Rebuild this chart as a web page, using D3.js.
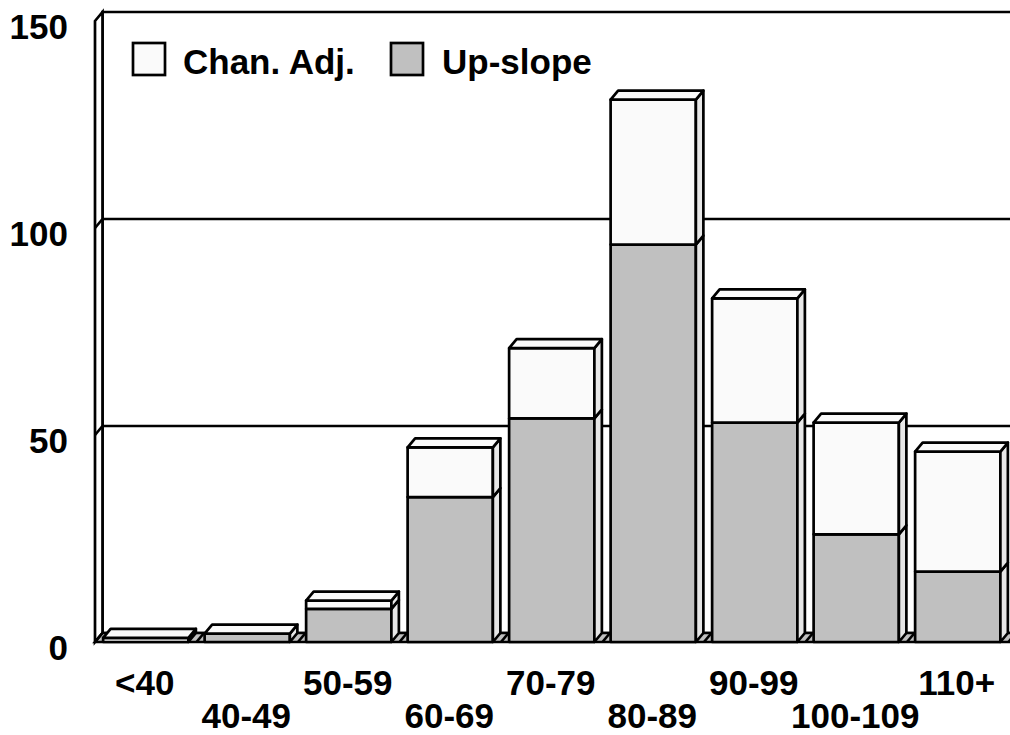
<!DOCTYPE html>
<html>
<head>
<meta charset="utf-8">
<script src="https://cdn.jsdelivr.net/npm/d3@7"></script>
<style>
  html, body { margin: 0; padding: 0; background: #fff; }
  svg { display: block; }
  text { font-family: "Liberation Sans", Arial, sans-serif; font-weight: bold; fill: #000; }
</style>
</head>
<body>
<svg id="chart" width="1010" height="735"></svg>
<script>
// Counts per speed class, stacked: Up-slope at the bottom, Chan. Adj. on top
const categories = ["<40", "40-49", "50-59", "60-69", "70-79", "80-89", "90-99", "100-109", "110+"];
const upSlope = [0, 2, 8, 35, 54, 96, 53, 26, 17];
const chanAdj = [1, 0, 2, 12, 17, 35, 30, 27, 29];
const yTicks = [0, 50, 100, 150];
const seriesNames = ["Chan. Adj.", "Up-slope"];

const W = 1010, H = 735;
const svg = d3.select("#chart");

// depth offset of the 3D box look (right and up)
const DX = 7.5, DY = 9;
const STROKE = 2.7;

const x = d3.scaleBand()
  .domain(categories)
  .range([95, 95 + 9 * 101.5])
  .paddingInner(0.16)
  .paddingOuter(0.08);

const y = d3.scaleLinear().domain([0, 150]).range([642, 642 - 150 * 4.14]);

const colors = {
  up:   { front: "#c0c0c0", side: "#e6e6e6", top: "#e0e0e0" },
  chan: { front: "#fafafa", side: "#e8e8e8", top: "#fafafa" }
};

const poly = pts => "M" + pts.map(p => p.join(",")).join("L") + "Z";

const x0 = 95;
const xEnd = W + 20;

// back wall
svg.append("path")
  .attr("d", poly([[x0 + DX, y(150) - DY], [xEnd, y(150) - DY], [xEnd, y(0) - DY], [x0 + DX, y(0) - DY]]))
  .attr("fill", "#fff")
  .attr("stroke", "#000").attr("stroke-width", STROKE);

// gridlines on the back wall
yTicks.filter(v => v > 0 && v < 150).forEach(v => {
  svg.append("line")
    .attr("x1", x0 + DX).attr("x2", xEnd)
    .attr("y1", y(v) - DY).attr("y2", y(v) - DY)
    .attr("stroke", "#000").attr("stroke-width", STROKE);
});

// left side wall
svg.append("path")
  .attr("d", poly([[x0, y(150)], [x0 + DX, y(150) - DY], [x0 + DX, y(0) - DY], [x0, y(0)]]))
  .attr("fill", "#fff")
  .attr("stroke", "#000").attr("stroke-width", STROKE);

yTicks.filter(v => v > 0 && v < 150).forEach(v => {
  svg.append("line")
    .attr("x1", x0).attr("y1", y(v))
    .attr("x2", x0 + DX).attr("y2", y(v) - DY)
    .attr("stroke", "#000").attr("stroke-width", STROKE);
});

// floor
svg.append("path")
  .attr("d", poly([[x0, y(0)], [x0 + DX, y(0) - DY], [xEnd, y(0) - DY], [xEnd, y(0)]]))
  .attr("fill", "#c0c0c0")
  .attr("stroke", "#000").attr("stroke-width", STROKE);

// category separators running into the depth of the floor
const step = x.step();
d3.range(categories.length + 1).forEach(i => {
  const bx = x0 + i * step;
  svg.append("line")
    .attr("x1", bx).attr("y1", y(0))
    .attr("x2", bx + DX).attr("y2", y(0) - DY)
    .attr("stroke", "#000").attr("stroke-width", STROKE);
});

// stacked 3D bars
const stackData = categories.map((c, i) => ({ cat: c, up: upSlope[i], chan: chanAdj[i] }));
const stack = d3.stack().keys(["up", "chan"])(stackData);

const bars = svg.append("g").attr("class", "bars");
categories.forEach((c, i) => {
  const g = bars.append("g");
  const bx = x(c), bw = x.bandwidth();
  stack.forEach(layer => {
    const key = layer.key;
    const [v0, v1] = layer[i];
    const yb = y(v0), yt = y(v1);
    const col = colors[key];
    if (v1 > v0) {
      // front face
      g.append("path")
        .attr("d", poly([[bx, yb], [bx + bw, yb], [bx + bw, yt], [bx, yt]]))
        .attr("fill", col.front)
        .attr("stroke", "#000").attr("stroke-width", STROKE).attr("stroke-linejoin", "round");
      // right side face
      g.append("path")
        .attr("d", poly([[bx + bw, yb], [bx + bw + DX, yb - DY], [bx + bw + DX, yt - DY], [bx + bw, yt]]))
        .attr("fill", col.side)
        .attr("stroke", "#000").attr("stroke-width", STROKE).attr("stroke-linejoin", "round");
    }
  });
  // top face of the stack
  const total = stack[stack.length - 1][i][1];
  const yt = y(total);
  g.append("path")
    .attr("d", poly([[bx, yt], [bx + DX, yt - DY], [bx + bw + DX, yt - DY], [bx + bw, yt]]))
    .attr("fill", colors.chan.top)
    .attr("stroke", "#000").attr("stroke-width", STROKE).attr("stroke-linejoin", "round");
});

// value axis labels
const yAxis = d3.axisLeft(y).tickValues(yTicks).tickSize(0).tickPadding(0).tickFormat(d3.format("d"));
const ya = svg.append("g").attr("transform", "translate(68,5)").call(yAxis);
ya.select(".domain").remove();
ya.selectAll("text")
  .attr("font-size", 35)
  .attr("font-family", "Liberation Sans, Arial, sans-serif")
  .attr("font-weight", "bold")
  .attr("fill", "#000")
  .attr("dy", "0.36em");

// category labels, staggered on two rows
svg.append("g").selectAll("text")
  .data(categories)
  .join("text")
  .attr("x", d => x(d) + x.bandwidth() / 2 - 1)
  .attr("y", (d, i) => i % 2 === 0 ? 695 : 728)
  .attr("text-anchor", "middle")
  .attr("font-size", 35)
  .text(d => d);

// legend
const legend = svg.append("g");
const legendItems = [
  { name: seriesNames[0], fill: colors.chan.front, bx: 133, tx: 183 },
  { name: seriesNames[1], fill: colors.up.front, bx: 391, tx: 442 }
];
legendItems.forEach(it => {
  legend.append("rect")
    .attr("x", it.bx).attr("y", 43).attr("width", 32).attr("height", 32)
    .attr("fill", it.fill).attr("stroke", "#000").attr("stroke-width", STROKE);
  legend.append("text")
    .attr("x", it.tx).attr("y", 74)
    .attr("font-size", 35)
    .text(it.name);
});
</script>
</body>
</html>
